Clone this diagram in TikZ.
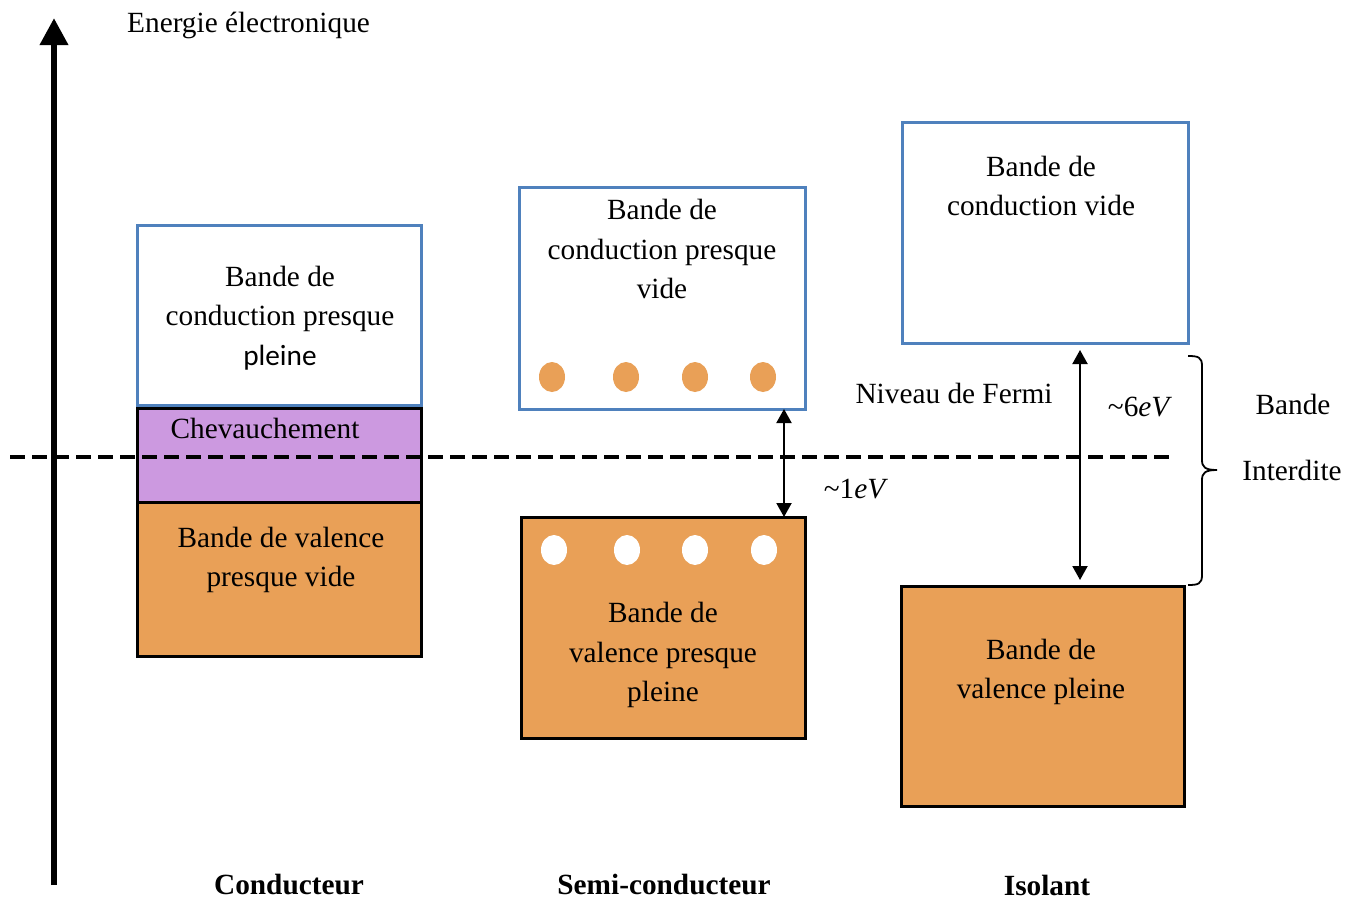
\documentclass[tikz,border=0pt]{standalone}
\usepackage{fontspec}
\setmainfont{Liberation Serif}
\newfontfamily\calib{Carlito}
\usetikzlibrary{arrows.meta,calc,shapes.geometric}
\definecolor{bblue}{RGB}{79,129,189}
\definecolor{borange}{RGB}{233,160,87}
\definecolor{bpurple}{RGB}{204,153,224}
\begin{document}
\begin{tikzpicture}[x=1pt,y=-1pt,
  every node/.style={font=\fontsize{29.3}{39.5}\selectfont},
  cbox/.style={draw=bblue,line width=3pt,fill=white,inner sep=0pt,outer sep=0pt},
  vbox/.style={draw=black,line width=3pt,fill=borange,inner sep=0pt,outer sep=0pt},
  obox/.style={draw=black,line width=3pt,fill=bpurple,inner sep=0pt,outer sep=0pt},
  txt/.style={align=center,inner sep=0pt},
  elec/.style={ellipse,fill=borange,minimum width=26pt,minimum height=30pt,inner sep=0pt},
  hole/.style={ellipse,fill=white,minimum width=26pt,minimum height=30pt,inner sep=0pt},
  gap/.style={line width=2pt,{Triangle[width=15pt,length=14pt]}-{Triangle[width=15pt,length=14pt]}},
  fermi/.style={line width=3.5pt,dash pattern=on 15pt off 7pt},
  bracestyle/.style={line width=1.8pt},
  cat/.style={font=\fontsize{29.3}{35}\selectfont\bfseries}]
\useasboundingbox (0,0) rectangle (1360,900);
% axis
\coordinate (axb) at (54,885);
\coordinate (axt) at (54,18);
\draw[line width=6.5pt,-{Triangle[width=27pt,length=27pt]}] (axb) -- (axt);
\node[anchor=west,inner sep=0pt] (title) at (127,25) {Energie électronique};
% conducteur
\node[cbox,minimum width=284pt,minimum height=180pt] (c1) at (279,315) {};
\node[obox,minimum width=284pt,minimum height=94pt] (o1) at (279,455) {};
\node[vbox,minimum width=284pt,minimum height=154pt] (v1) at (279,579) {};
\node[txt] (c1t) at (280,318) {Bande de\\conduction presque\\{\calib pleine}};
\node[txt] (o1t) at (265,428) {Chevauchement};
\node[txt] (v1t) at (281,560) {Bande de valence\\presque vide};
% semi-conducteur
\node[cbox,minimum width=286pt,minimum height=222pt] (c2) at (662,298) {};
\node[vbox,minimum width=284pt,minimum height=221pt] (v2) at (663,627.5) {};
\node[txt] (c2t) at (662,249) {Bande de\\conduction presque\\vide};
\node[txt] (v2t) at (663,655) {Bande de\\valence presque\\pleine};
\foreach \i/\x in {1/552,2/626,3/695,4/763} \node[elec] (e\i) at (\x,377) {};
\foreach \i/\x in {1/554,2/627,3/695,4/764} \node[hole] (h\i) at (\x,550) {};
% isolant
\node[cbox,minimum width=286pt,minimum height=221pt] (c3) at (1045,232.5) {};
\node[vbox,minimum width=283pt,minimum height=220pt] (v3) at (1042.5,696) {};
\node[txt] (c3t) at (1041,186) {Bande de\\conduction vide};
\node[txt] (v3t) at (1041,672) {Bande de\\valence pleine};
% fermi level
\coordinate (fl) at (10,457);
\coordinate (fr) at (1170,457);
\draw[fermi] (fl) -- (fr);
\node[txt] (fermit) at (954,393) {Niveau de Fermi};
% gaps
\coordinate (g1) at (784,0);
\draw[gap] (c2.south -| g1) -- (v2.north -| g1);
\node[txt] (g1t) at (856,489) {\textasciitilde1\textit{eV}};
\coordinate (g2) at (1080,0);
\draw[gap,shorten <=7pt,shorten >=6pt] (c3.south -| g2) -- (v3.north -| g2);
\node[txt] (g2t) at (1140,407) {\textasciitilde6\textit{eV}};
% brace
\coordinate (bt) at (1188,356);
\coordinate (bb) at (1188,585);
\coordinate (btip) at (1217,470);
\draw[bracestyle] (bt) .. controls (1198,356) and (1202,357) .. (1202,366)
  -- (1202,460) .. controls (1202,467) and (1205,470) .. (btip)
  (btip) .. controls (1205,470) and (1202,473) .. (1202,480)
  -- (1202,575) .. controls (1202,584) and (1198,585) .. (bb);
\node[txt] (bd1) at (1293,404) {Bande};
\node[txt] (bd2) at (1292,470) {Interdite};
% categories
\node[cat] (k1) at (289,885) {Conducteur};
\node[cat] (k2) at (664,885) {Semi-conducteur};
\node[cat] (k3) at (1047,885) {Isolant};
\end{tikzpicture}
\end{document}
